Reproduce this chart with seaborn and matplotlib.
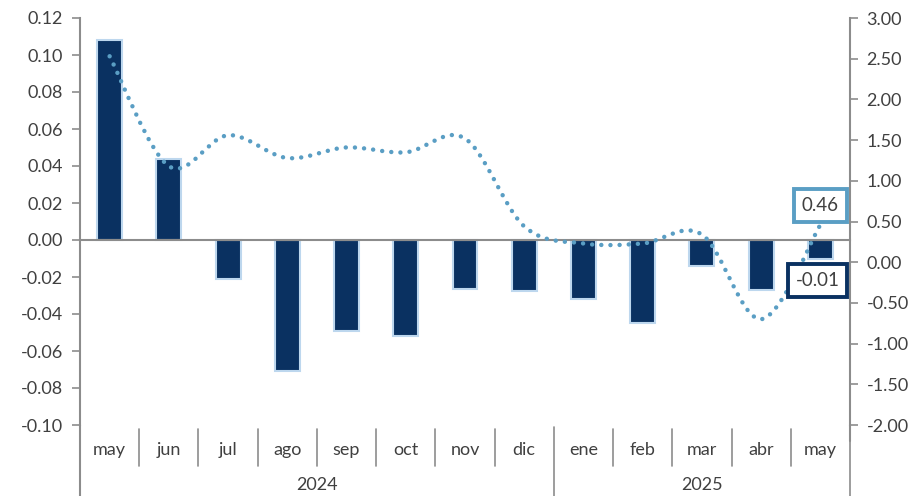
import numpy as np
import pandas as pd
import matplotlib
matplotlib.use("Agg")
import matplotlib.pyplot as plt
import seaborn as sns
from matplotlib.path import Path
from matplotlib.patches import PathPatch
from matplotlib.ticker import FormatStrFormatter, FixedLocator

# data
months = ["may", "jun", "jul", "ago", "sep", "oct", "nov", "dic",
          "ene", "feb", "mar", "abr", "may"]
years = ["2024", "2025"]
year_spans = [(0, 8), (8, 13)]
bar_vals = [0.108, 0.044, -0.021, -0.071, -0.049, -0.052, -0.0265,
            -0.0275, -0.032, -0.045, -0.014, -0.027, -0.01]
line_vals = [2.53, 1.18, 1.56, 1.28, 1.41, 1.35, 1.52,
             0.44, 0.23, 0.23, 0.34, -0.70, 0.46]

NAVY = "#0A3161"
EDGE = "#BDD7EE"
DOTS = "#5A9EC4"
GRAY = "#8C8C8C"
TXT = "#404040"

sns.set_style("white")
plt.rcParams['font.family'] = ['Lato', 'DejaVu Sans']
plt.rcParams['font.size'] = 13

fig = plt.figure(figsize=(9.22, 4.96), dpi=100)
ax = fig.add_axes([80/922, 1-425/496, 770/922, 407/496])

df = pd.DataFrame({"pos": np.arange(len(months)), "val": bar_vals})
sns.barplot(data=df, x="pos", y="val", color=NAVY, saturation=1,
            edgecolor=EDGE, linewidth=1.5, width=0.42, ax=ax)

ax.set_xlim(-0.5, len(months) - 0.5)
ax.set_ylim(-0.10, 0.12)
ax.set_yticks(np.arange(-0.10, 0.1201, 0.02))
ax.yaxis.set_major_formatter(FormatStrFormatter('%.2f'))
ax.set_xlabel("")
ax.set_ylabel("")

for s in ["top", "right"]:
    ax.spines[s].set_visible(False)
ax.spines["bottom"].set_position(("data", 0))
ax.spines["bottom"].set_color(GRAY)
ax.spines["bottom"].set_linewidth(1.5)
ax.spines["left"].set_color(GRAY)
ax.spines["left"].set_linewidth(1.5)
ax.spines["left"].set_bounds(-0.10, 0.12)

ax.xaxis.set_major_locator(FixedLocator(np.arange(-0.5, len(months), 1.0)))
ax.set_xticklabels([])
ax.tick_params(axis="x", direction="out", length=5, width=1.2, color=GRAY, labelbottom=False)
ax.tick_params(axis="y", direction="out", length=6, width=1.2, color=GRAY, labelcolor=TXT, pad=6)

# left spine continues down through category area
ax.plot([0, 0], [0, -0.175], transform=ax.transAxes, color=GRAY, lw=1.5, clip_on=False)

# category labels (two-level axis)
xt = ax.get_xaxis_transform()
for i, m in enumerate(months):
    ax.text(i, -0.061, m, transform=xt, ha="center", va="center", color=TXT)
for k in range(1, len(months)):
    if k == 8:
        continue
    ax.plot([k - 0.5, k - 0.5], [-0.01, -0.10], transform=xt, color=GRAY, lw=1.2, clip_on=False)
for (a, b), y in zip(year_spans, years):
    ax.text((a + b - 1) / 2, -0.147, y, transform=xt, ha="center", va="center", color=TXT)
for k in (8, 13):
    ax.plot([k - 0.5, k - 0.5], [-0.005, -0.175], transform=xt, color=GRAY, lw=1.2, clip_on=False)

# secondary axis with smoothed dotted line
ax2 = ax.twinx()
ax2.set_ylim(-2.0, 3.0)
ax2.set_yticks(np.arange(-2.0, 3.01, 0.5))
ax2.yaxis.set_major_formatter(FormatStrFormatter('%.2f'))
for s in ["top", "left", "bottom"]:
    ax2.spines[s].set_visible(False)
ax2.spines["right"].set_color(GRAY)
ax2.spines["right"].set_linewidth(1.5)
ax2.tick_params(axis="y", direction="out", length=6, width=1.2, color=GRAY, labelcolor=TXT, pad=6)
ax2.plot([1, 1], [0, -0.04], transform=ax2.transAxes, color=GRAY, lw=1.5, clip_on=False)

xs = np.arange(len(line_vals), dtype=float)
ys = np.array(line_vals)
pts = np.column_stack([xs, ys])
ext = np.vstack([pts[0], pts, pts[-1]])
verts = [tuple(pts[0])]
codes = [Path.MOVETO]
for i in range(len(pts) - 1):
    p0, p1, p2, p3 = ext[i], ext[i + 1], ext[i + 2], ext[i + 3]
    c1 = p1 + (p2 - p0) / 6.0
    c2 = p2 - (p3 - p1) / 6.0
    verts += [tuple(c1), tuple(c2), tuple(p2)]
    codes += [Path.CURVE4] * 3
curve = PathPatch(Path(verts, codes), fill=False, edgecolor=DOTS, lw=3.2,
                  linestyle=(0, (0.01, 2.05)), capstyle="round")
ax2.add_patch(curve)

# data labels for the last month
ax2.annotate(f"{line_vals[-1]:.2f}", xy=(12, line_vals[-1]), xytext=(0, 14),
             textcoords="offset points", ha="center", va="center", color=TXT, fontsize=13.5,
             bbox=dict(boxstyle="square,pad=0.42", fc="white", ec=DOTS, lw=2.8))
ax2.annotate(f"{bar_vals[-1]:.2f}", xy=(12, 0), xytext=(-2, -13),
             textcoords="offset points", ha="center", va="center", color=TXT, fontsize=13.5,
             bbox=dict(boxstyle="square,pad=0.42", fc="white", ec=NAVY, lw=2.8))

fig.savefig("out.png", dpi=100)
